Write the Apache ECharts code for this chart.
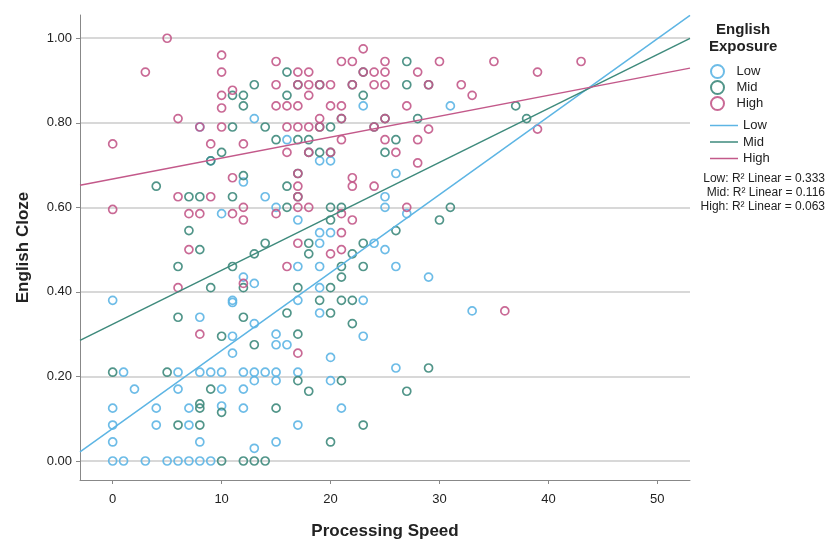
<!DOCTYPE html>
<html>
<head>
<meta charset="utf-8">
<script src="https://cdn.jsdelivr.net/npm/echarts@6/dist/echarts.min.js"></script>
<style>
  html, body { margin: 0; padding: 0; background: #fff; }
  #chart { width: 830px; height: 543px; }
</style>
</head>
<body>
<div id="chart"></div>
<script>
// exposure groups
const groups = ["Low", "Mid", "High"];
const groupColors = ["#5db5e4", "#3e8a7c", "#c3598a"];

// [processing speed, english cloze]
const lowPoints = [
  [0, 0.38], [8, 0.79], [13, 0.81], [9, 0.71], [12, 0.66], [16, 0.76], [23, 0.84],
  [19, 0.71], [20, 0.71], [26, 0.68], [31, 0.84], [14, 0.625], [10, 0.585], [15, 0.6],
  [17, 0.57], [17, 0.46], [12, 0.435], [13, 0.42], [11, 0.38], [11, 0.375], [17, 0.38],
  [8, 0.34], [13, 0.325], [25, 0.625], [25, 0.6], [27, 0.585], [19, 0.54], [20, 0.54],
  [19, 0.515], [24, 0.515], [25, 0.5], [19, 0.46], [26, 0.46], [19, 0.41], [23, 0.38],
  [19, 0.35], [29, 0.435], [33, 0.355],
  [1, 0.21], [6, 0.21], [8, 0.21], [2, 0.17], [6, 0.17], [0, 0.125], [4, 0.125], [7, 0.125],
  [0, 0.085], [4, 0.085], [7, 0.085], [0, 0.045], [8, 0.045],
  [0, 0], [1, 0], [3, 0], [5, 0], [6, 0], [7, 0], [8, 0], [9, 0],
  [11, 0.295], [11, 0.255], [15, 0.3], [15, 0.275], [16, 0.275],
  [9, 0.21], [10, 0.21], [12, 0.21], [13, 0.21], [14, 0.21], [15, 0.21], [17, 0.21],
  [13, 0.19], [15, 0.19], [10, 0.17], [12, 0.17], [10, 0.13], [12, 0.125], [17, 0.085],
  [13, 0.03], [15, 0.045], [23, 0.295], [20, 0.245], [26, 0.22], [20, 0.19], [21, 0.125]
];
const midPoints = [
  [13, 0.89], [16, 0.92], [11, 0.865], [12, 0.865], [16, 0.865], [12, 0.84], [11, 0.79],
  [14, 0.79], [15, 0.76], [17, 0.76], [10, 0.73], [9, 0.71], [12, 0.675], [17, 0.68],
  [23, 0.865], [20, 0.79], [18, 0.76], [26, 0.76], [19, 0.73], [25, 0.73],
  [27, 0.945], [27, 0.89], [28, 0.81], [37, 0.84], [38, 0.81],
  [17, 0.89], [23, 0.92], [19, 0.89], [22, 0.89], [21, 0.81], [25, 0.81], [19, 0.79],
  [24, 0.79], [18, 0.73], [20, 0.73], [29, 0.89], [17, 0.625],
  [4, 0.65], [7, 0.625], [8, 0.625], [7, 0.545], [8, 0.5], [6, 0.46], [6, 0.34],
  [11, 0.625], [16, 0.65], [16, 0.6], [14, 0.515], [13, 0.49], [11, 0.46], [12, 0.41],
  [9, 0.41], [17, 0.41], [12, 0.34], [16, 0.35],
  [20, 0.6], [21, 0.6], [20, 0.57], [26, 0.545], [18, 0.515], [23, 0.515], [18, 0.49],
  [22, 0.49], [21, 0.46], [23, 0.46], [21, 0.435], [20, 0.41], [19, 0.38], [21, 0.38],
  [22, 0.38], [20, 0.35], [22, 0.325], [31, 0.6], [30, 0.57],
  [0, 0.21], [5, 0.21], [8, 0.135], [8, 0.125], [6, 0.085], [8, 0.085],
  [10, 0.295], [13, 0.275], [17, 0.3], [17, 0.19], [9, 0.17], [10, 0.115], [15, 0.125],
  [10, 0], [12, 0], [13, 0], [14, 0],
  [21, 0.19], [18, 0.165], [27, 0.165], [23, 0.085], [20, 0.045], [29, 0.22]
];
const highPoints = [
  [5, 1.0], [3, 0.92], [6, 0.81], [0, 0.75], [0, 0.595], [8, 0.79],
  [10, 0.96], [10, 0.92], [15, 0.945], [17, 0.92], [15, 0.89], [17, 0.89], [10, 0.865],
  [11, 0.877], [10, 0.835], [15, 0.84], [16, 0.84], [17, 0.84], [10, 0.79], [16, 0.79],
  [17, 0.79], [9, 0.75], [12, 0.75], [16, 0.73], [11, 0.67], [17, 0.68],
  [23, 0.975], [21, 0.945], [22, 0.945], [25, 0.945], [18, 0.92], [23, 0.92], [24, 0.92],
  [25, 0.92], [18, 0.89], [19, 0.89], [20, 0.89], [22, 0.89], [24, 0.89], [25, 0.89],
  [18, 0.865], [20, 0.84], [21, 0.84], [19, 0.81], [21, 0.81], [25, 0.81], [18, 0.79],
  [19, 0.79], [24, 0.79], [21, 0.76], [25, 0.76], [18, 0.73], [20, 0.73], [26, 0.73],
  [22, 0.67],
  [30, 0.945], [35, 0.945], [43, 0.945], [28, 0.92], [39, 0.92], [29, 0.89], [32, 0.89],
  [33, 0.865], [27, 0.84], [29, 0.785], [39, 0.785], [28, 0.76], [28, 0.705],
  [6, 0.625], [7, 0.585], [8, 0.585], [7, 0.5], [6, 0.41],
  [9, 0.625], [17, 0.65], [17, 0.625], [11, 0.585], [12, 0.6], [12, 0.57], [15, 0.585],
  [17, 0.515], [16, 0.46], [12, 0.42],
  [22, 0.65], [24, 0.65], [17, 0.6], [18, 0.6], [21, 0.585], [22, 0.57], [21, 0.54],
  [20, 0.49], [21, 0.5], [27, 0.6], [36, 0.355], [8, 0.3], [17, 0.255]
];

// linear fit lines per group: cloze = intercept + slope * speed
const fitIntercepts = [0.077, 0.3235, 0.667];
const fitSlopes = [0.01844, 0.01276, 0.00495];
const r2Values = ["0.333", "0.116", "0.063"];

const xTicks = [0, 10, 20, 30, 40, 50];
const yTicks = [0, 0.2, 0.4, 0.6, 0.8, 1.0];
const xMin = -3, xMax = 53;
const yMin = -0.045, yMax = 1.055;

const font = "Liberation Sans, Arial, Helvetica, sans-serif";
const chart = echarts.init(document.getElementById("chart"));

const pointSets = [lowPoints, midPoints, highPoints];
const scatterSeries = groups.map((g, i) => ({
  name: g,
  type: "scatter",
  data: pointSets[i],
  symbol: "circle",
  symbolSize: 8,
  itemStyle: {
    color: "rgba(255,255,255,0)",
    borderColor: groupColors[i],
    borderWidth: 1.7,
    opacity: 0.9,
  },
  z: 2,
}));

const lineSeries = groups.map((g, i) => ({
  name: g + " ",
  type: "line",
  symbol: "none",
  silent: true,
  data: [
    [xMin, fitIntercepts[i] + fitSlopes[i] * xMin],
    [xMax, fitIntercepts[i] + fitSlopes[i] * xMax],
  ],
  lineStyle: { color: groupColors[i], width: 1.5 },
  itemStyle: { color: groupColors[i] },
  z: 3,
}));

chart.setOption({
  animation: false,
  textStyle: { fontFamily: font },
  grid: { left: 80, right: 140, top: 15, bottom: 63, outerBoundsMode: "none" },
  xAxis: {
    type: "value",
    min: xMin,
    max: xMax,
    name: "Processing Speed",
    nameLocation: "middle",
    nameGap: 43,
    nameTextStyle: { fontSize: 17, fontWeight: "bold", color: "#222", fontFamily: font },
    axisLine: { show: true, onZero: false, lineStyle: { color: "#888", width: 1 } },
    axisTick: { show: true, customValues: xTicks, length: 4, lineStyle: { color: "#888" } },
    axisLabel: { customValues: xTicks, color: "#222", fontSize: 13, margin: 13 },
    splitLine: { show: false },
  },
  yAxis: {
    type: "value",
    min: yMin,
    max: yMax,
    name: "English Cloze",
    nameLocation: "middle",
    nameGap: 48,
    nameTextStyle: { fontSize: 17, fontWeight: "bold", color: "#222", fontFamily: font },
    axisLine: { show: true, onZero: false, lineStyle: { color: "#888", width: 1 } },
    axisTick: { show: true, customValues: yTicks, length: 4, lineStyle: { color: "#888" } },
    axisLabel: {
      customValues: yTicks,
      color: "#222",
      fontSize: 13,
      margin: 8,
      formatter: (v) => v.toFixed(2),
    },
    splitLine: { show: true, lineStyle: { color: "#cbcbcb", width: 1.5 } },
  },
  legend: [
    {
      orient: "vertical",
      left: 705,
      top: 59,
      itemWidth: 28,
      itemHeight: 13,
      itemGap: 1,
      data: groups,
      textStyle: { fontSize: 13, color: "#222", lineHeight: 15 },
    },
    {
      orient: "vertical",
      left: 705,
      top: 113,
      itemWidth: 28,
      itemHeight: 1.5,
      itemGap: 1.5,
      icon: "rect",
      data: groups.map((g) => g + " "),
      formatter: (n) => n.trim(),
      textStyle: { fontSize: 13, color: "#222", lineHeight: 15 },
    },
  ],
  graphic: [
    {
      type: "text",
      left: 709,
      top: 21,
      style: {
        text: "English\nExposure",
        font: "bold 15px " + font,
        fill: "#222",
        textAlign: "center",
        lineHeight: 17,
      },
    },
  ].concat(
    groups.map((g, i) => ({
      type: "text",
      right: 5,
      top: 173 + i * 14,
      style: {
        text: g + ": R² Linear = " + r2Values[i],
        font: "12px " + font,
        fill: "#222",
      },
    }))
  ),
  series: scatterSeries.concat(lineSeries),
});
</script>
</body>
</html>
